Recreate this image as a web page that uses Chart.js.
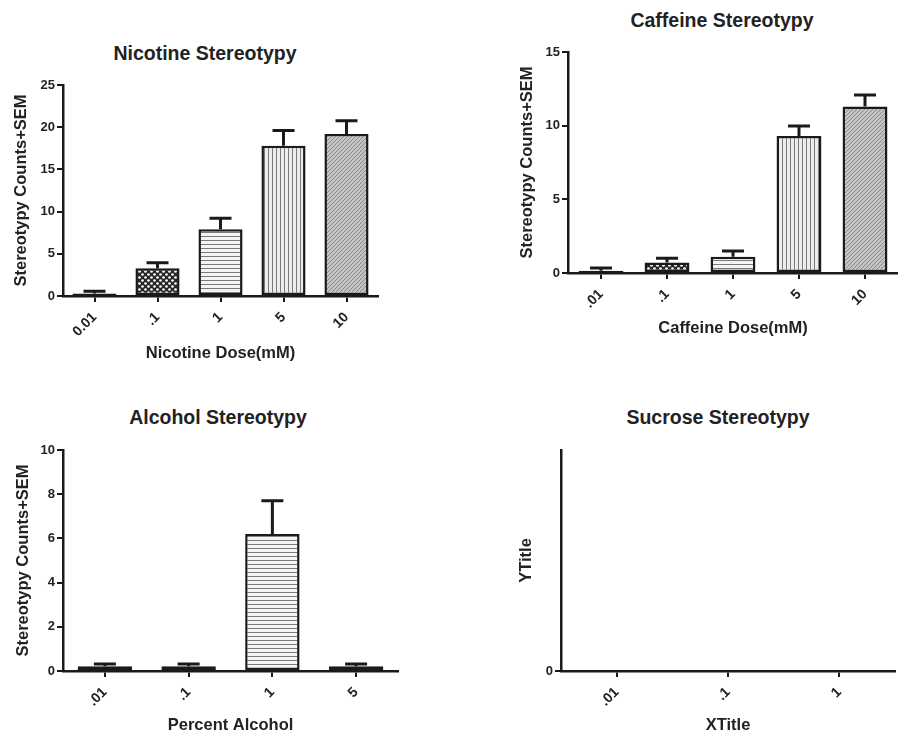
<!DOCTYPE html>
<html>
<head>
<meta charset="utf-8">
<script src="https://cdn.jsdelivr.net/npm/chart.js@4.4.1/dist/chart.umd.min.js"></script>
<style>
  body { margin:0; background:#fff; width:898px; height:736px; position:relative; overflow:hidden;
         font-family:"Liberation Sans", Arial, sans-serif; }
  .box { position:absolute; }
  .ttl { position:absolute; font-weight:bold; font-size:19.5px; color:#222; white-space:nowrap;
         transform:translate(-50%,-50%); }
</style>
</head>
<body>
<div class="ttl" style="left:205px;top:53px">Nicotine Stereotypy</div>
<div class="ttl" style="left:722px;top:20px">Caffeine Stereotypy</div>
<div class="ttl" style="left:218px;top:417px">Alcohol Stereotypy</div>
<div class="ttl" style="left:718px;top:417px">Sucrose Stereotypy</div>

<div class="box" style="left:0;top:0;width:470px;height:368px"><canvas id="nicotine"></canvas></div>
<div class="box" style="left:470px;top:0;width:428px;height:368px"><canvas id="caffeine"></canvas></div>
<div class="box" style="left:0;top:368px;width:470px;height:368px"><canvas id="alcohol"></canvas></div>
<div class="box" style="left:470px;top:368px;width:428px;height:368px"><canvas id="sucrose"></canvas></div>

<script>
// values
const nicotineDoses = ['0.01', '.1', '1', '5', '10'];
const nicotineMeans = [0.3, 3.3, 7.9, 17.8, 19.2];
const nicotineSem   = [0.25, 0.65, 1.3, 1.8, 1.55];
const nicotineTicks = [0, 5, 10, 15, 20, 25];

const caffeineDoses = ['.01', '.1', '1', '5', '10'];
const caffeineMeans = [0.16, 0.72, 1.1, 9.3, 11.3];
const caffeineSem   = [0.18, 0.28, 0.4, 0.68, 0.78];
const caffeineTicks = [0, 5, 10, 15];

const alcoholPercents = ['.01', '.1', '1', '5'];
const alcoholMeans = [0.22, 0.22, 6.2, 0.22];
const alcoholSem   = [0.1, 0.1, 1.5, 0.1];
const alcoholTicks = [0, 2, 4, 6, 8, 10];

const sucroseDoses = ['.01', '.1', '1'];
const sucroseMeans = [];
const sucroseSem   = [];
const sucroseTicks = [0];

const INK = '#1a1a1a';
const TXT = '#222';

function hatch(kind) {
  const c = document.createElement('canvas');
  const g = c.getContext('2d');
  if (kind === 'dark') {
    c.width = c.height = 4;
    g.fillStyle = '#2a2a2a'; g.fillRect(0, 0, 4, 4);
  } else if (kind === 'dots') {
    c.width = c.height = 6;
    g.fillStyle = '#262626'; g.fillRect(0, 0, 6, 6);
    g.fillStyle = '#fff';
    g.beginPath(); g.arc(1.5, 1.5, 1.35, 0, Math.PI * 2); g.fill();
    g.beginPath(); g.arc(4.5, 4.5, 1.35, 0, Math.PI * 2); g.fill();
  } else if (kind === 'hlines') {
    c.width = c.height = 4;
    g.fillStyle = '#f4f4f4'; g.fillRect(0, 0, 4, 4);
    g.fillStyle = '#7a7a7a'; g.fillRect(0, 0, 4, 1);
  } else if (kind === 'vlines') {
    c.width = c.height = 4;
    g.fillStyle = '#ececec'; g.fillRect(0, 0, 4, 4);
    g.fillStyle = '#7a7a7a'; g.fillRect(0, 0, 1, 4);
  } else {
    c.width = c.height = 4;
    g.fillStyle = '#c4c4c4'; g.fillRect(0, 0, 4, 4);
    g.fillStyle = '#8a8a8a';
    for (let i = 0; i < 4; i++) g.fillRect(i, 3 - i, 1, 1);
  }
  return g.createPattern(c, 'repeat');
}

// SEM caps drawn on top of the bars
const errorBars = {
  id: 'errorBars',
  afterDatasetsDraw(chart, args, opts) {
    const sem = opts.sem || [];
    const ds = chart.data.datasets[0];
    if (!ds || !sem.length) return;
    const y = chart.scales.y, ctx = chart.ctx;
    ctx.save();
    ctx.strokeStyle = INK; ctx.lineWidth = 3; ctx.lineCap = 'butt';
    chart.getDatasetMeta(0).data.forEach((bar, i) => {
      const top = y.getPixelForValue(ds.data[i] + sem[i]);
      ctx.beginPath();
      ctx.moveTo(bar.x, bar.y); ctx.lineTo(bar.x, top);
      ctx.moveTo(bar.x - 11, top); ctx.lineTo(bar.x + 11, top);
      ctx.stroke();
    });
    ctx.restore();
  }
};

function panel(id, o) {
  const tickFont = { family: '"Liberation Sans", Arial', size: 13, weight: 'bold' };
  const xTickFont = { family: '"Liberation Sans", Arial', size: 14, weight: 'bold' };
  const titleFont = { family: '"Liberation Sans", Arial', size: 16.5, weight: 'bold' };
  return new Chart(document.getElementById(id), {
    type: 'bar',
    data: {
      labels: o.labels,
      datasets: [{ data: o.values, backgroundColor: o.fills, borderColor: INK, borderWidth: 2.5,
                   borderSkipped: false, barPercentage: o.barPct, categoryPercentage: 1 }]
    },
    options: {
      animation: false, responsive: true, maintainAspectRatio: false,
      layout: { padding: o.pad },
      plugins: { legend: { display: false }, tooltip: { enabled: false }, errorBars: { sem: o.sem } },
      scales: {
        x: {
          grid: { drawOnChartArea: false, offset: false, color: INK, lineWidth: 2, tickLength: 6 },
          border: { color: INK, width: 2.5 },
          ticks: { color: TXT, font: xTickFont, minRotation: 45, maxRotation: 45, padding: 7 },
          title: { display: true, text: o.xTitle, color: TXT, font: titleFont, padding: { top: 0, bottom: o.xTitlePad } },
          afterFit: s => { s.height = o.xH; }
        },
        y: {
          min: 0, max: o.yMax,
          afterBuildTicks: s => { s.ticks = o.ticks.map(v => ({ value: v })); },
          grid: { drawOnChartArea: false, color: INK, lineWidth: 2, tickLength: 6 },
          border: { color: INK, width: 2.5 },
          ticks: { color: TXT, font: tickFont, padding: 2 },
          title: { display: true, text: o.yTitle, color: TXT, font: titleFont, padding: { top: o.yTitlePad, bottom: 0 } },
          afterFit: s => { s.width = o.yW; }
        }
      }
    },
    plugins: [errorBars]
  });
}

panel('nicotine', {
  labels: nicotineDoses, values: nicotineMeans, sem: nicotineSem, ticks: nicotineTicks, yMax: 25,
  fills: [hatch('dark'), hatch('dots'), hatch('hlines'), hatch('vlines'), hatch('cross')],
  barPct: 0.7, xTitle: 'Nicotine Dose(mM)', yTitle: 'Stereotypy Counts+SEM',
  pad: { left: 0, top: 85, right: 92, bottom: 0 }, yW: 63, xH: 72, yTitlePad: 12, xTitlePad: 5
});

panel('caffeine', {
  labels: caffeineDoses, values: caffeineMeans, sem: caffeineSem, ticks: caffeineTicks, yMax: 15,
  fills: [hatch('dark'), hatch('dots'), hatch('hlines'), hatch('vlines'), hatch('cross')],
  barPct: 0.68, xTitle: 'Caffeine Dose(mM)', yTitle: 'Stereotypy Counts+SEM',
  pad: { left: 0, top: 52, right: 0, bottom: 0 }, yW: 98, xH: 95, yTitlePad: 48, xTitlePad: 30
});

panel('alcohol', {
  labels: alcoholPercents, values: alcoholMeans, sem: alcoholSem, ticks: alcoholTicks, yMax: 10,
  fills: [hatch('hlines'), hatch('dots'), hatch('hlines'), hatch('hlines')],
  barPct: 0.65, xTitle: 'Percent Alcohol', yTitle: 'Stereotypy Counts+SEM',
  pad: { left: 0, top: 82, right: 72, bottom: 0 }, yW: 63, xH: 65, yTitlePad: 14, xTitlePad: 1
});

panel('sucrose', {
  labels: sucroseDoses, values: sucroseMeans, sem: sucroseSem, ticks: sucroseTicks, yMax: 1,
  fills: [], barPct: 0.65, xTitle: 'XTitle', yTitle: 'YTitle',
  pad: { left: 0, top: 82, right: 3, bottom: 0 }, yW: 91, xH: 65, yTitlePad: 47, xTitlePad: 1
});
</script>
</body>
</html>
